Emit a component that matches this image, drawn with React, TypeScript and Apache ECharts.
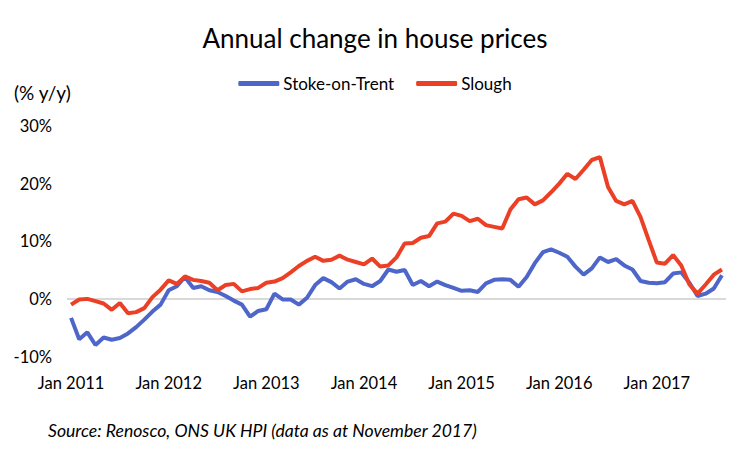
import React, { useEffect, useRef } from "react";
import * as echarts from "echarts";

const MONTHS = ["Jan", "Feb", "Mar", "Apr", "May", "Jun", "Jul", "Aug", "Sep", "Oct", "Nov", "Dec"];
const YEARS = [2011, 2012, 2013, 2014, 2015, 2016, 2017];
const LAST_MONTH_2017 = 9; // data runs to Sep 2017

const categories: string[] = [];
YEARS.forEach((y) => {
  const n = y === 2017 ? LAST_MONTH_2017 : 12;
  for (let m = 0; m < n; m++) categories.push(`${MONTHS[m]} ${y}`);
});

const stokeOnTrent = [
  -3.3, -7.0, -5.8, -8.0, -6.7, -7.1, -6.8, -6.0, -4.9, -3.6, -2.2, -1.0,
  1.5, 2.2, 3.8, 1.9, 2.2, 1.5, 1.2, 0.5, -0.3, -1.0, -3.1, -2.1,
  -1.8, 0.9, -0.1, -0.1, -1.0, 0.2, 2.4, 3.6, 2.9, 1.8, 3.0, 3.4,
  2.6, 2.2, 3.1, 5.1, 4.7, 5.0, 2.4, 3.1, 2.2, 3.0, 2.4, 1.9,
  1.4, 1.5, 1.2, 2.7, 3.3, 3.4, 3.3, 2.1, 3.8, 6.2, 8.1, 8.6,
  8.0, 7.3, 5.6, 4.2, 5.3, 7.2, 6.4, 6.9, 5.8, 5.1, 3.1, 2.8,
  2.7, 2.9, 4.4, 4.6, 2.8, 0.5, 0.9, 1.8, 4.1,
];

const slough = [
  -1.0, -0.1, 0.0, -0.4, -0.8, -1.9, -0.7, -2.5, -2.3, -1.6, 0.3, 1.6,
  3.2, 2.6, 3.9, 3.3, 3.1, 2.8, 1.5, 2.4, 2.6, 1.3, 1.7, 1.9,
  2.8, 3.0, 3.6, 4.6, 5.7, 6.6, 7.3, 6.6, 6.8, 7.5, 6.8, 6.4,
  6.0, 7.0, 5.6, 5.8, 7.2, 9.6, 9.7, 10.6, 10.9, 13.1, 13.4, 14.8,
  14.4, 13.5, 13.9, 12.8, 12.5, 12.2, 15.5, 17.3, 17.6, 16.4, 17.1, 18.5,
  20.0, 21.7, 20.8, 22.4, 24.1, 24.6, 19.4, 17.0, 16.4, 17.0, 14.2, 10.2,
  6.3, 6.1, 7.6, 5.8, 2.5, 0.9, 2.5, 4.2, 5.1,
];

const FONT = "Lato, 'Liberation Sans', sans-serif";
const BLUE = "#4e66c9";
const RED = "#ec4026";

export default function App() {
  const ref = useRef<HTMLDivElement>(null);
  useEffect(() => {
    if (!ref.current) return;
    const chart = echarts.init(ref.current, undefined, { renderer: "svg" });
    chart.setOption({
      animation: false,
      backgroundColor: "#ffffff",
      title: {
        text: "Annual change in house prices",
        left: "center",
        top: 20,
        textStyle: { fontFamily: FONT, fontSize: 26, fontWeight: "normal", color: "#000" },
      },
      legend: {
        top: 70,
        left: "center",
        icon: "roundRect",
        itemWidth: 41,
        itemHeight: 5,
        itemGap: 22,
        textStyle: { fontFamily: FONT, fontSize: 17, color: "#000", padding: [0, 0, 0, -1] },
        data: ["Stoke-on-Trent", "Slough"],
      },
      graphic: [
        {
          type: "text",
          left: 14,
          top: 83,
          style: { text: "(% y/y)", font: `19px ${FONT}`, fill: "#000" },
        },
        {
          type: "text",
          left: 48,
          top: 421,
          style: {
            text: "Source: Renosco, ONS UK HPI (data as at November 2017)",
            font: `italic 17.6px ${FONT}`,
            fill: "#000",
          },
        },
      ],
      grid: { left: 67, right: 24, top: 126, bottom: 93.5, containLabel: false },
      xAxis: {
        type: "category",
        data: categories,
        boundaryGap: true,
        axisLine: { show: false },
        axisTick: { show: false },
        axisLabel: {
          interval: 11,
          margin: 18,
          fontFamily: FONT,
          fontSize: 16.5,
          color: "#000",
        },
        splitLine: { show: false },
      },
      yAxis: {
        type: "value",
        min: -10,
        max: 30,
        interval: 10,
        axisLine: { show: false },
        axisTick: { show: false },
        splitLine: { show: false },
        axisLabel: {
          formatter: "{value}%",
          margin: 15,
          fontFamily: FONT,
          fontSize: 16.5,
          color: "#000",
        },
      },
      series: [
        {
          name: "Stoke-on-Trent",
          type: "line",
          data: stokeOnTrent,
          symbol: "none",
          lineStyle: { color: BLUE, width: 4 },
          itemStyle: { color: BLUE },
          z: 3,
          markLine: {
            silent: true,
            symbol: "none",
            label: { show: false },
            lineStyle: { color: "#d9d9d9", width: 2, type: "solid" },
            data: [{ yAxis: 0 }],
            z: 1,
          },
        },
        {
          name: "Slough",
          type: "line",
          data: slough,
          symbol: "none",
          lineStyle: { color: RED, width: 4 },
          itemStyle: { color: RED },
          z: 4,
        },
      ],
    });
    return () => chart.dispose();
  }, []);
  return <div ref={ref} style={{ width: 750, height: 450, margin: -8 }} />;
}
